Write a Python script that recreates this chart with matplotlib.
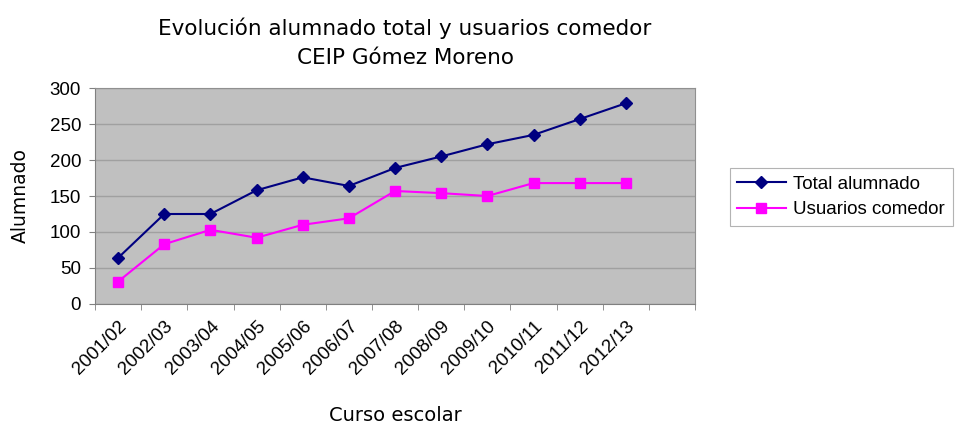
import matplotlib.pyplot as plt
import numpy as np

cursos = ['2001/02', '2002/03', '2003/04', '2004/05', '2005/06', '2006/07',
          '2007/08', '2008/09', '2009/10', '2010/11', '2011/12', '2012/13']
total = [64, 125, 125, 158, 176, 164, 189, 205, 222, 235, 257, 279]
comedor = [31, 83, 103, 92, 110, 119, 157, 154, 150, 168, 168, 168]

plt.rcParams['font.family'] = ['Liberation Sans', 'DejaVu Sans']

fig = plt.figure(figsize=(9.6, 4.28), dpi=100)
ax = fig.add_axes([0.099, 0.29, 0.625, 0.504])
ax.set_facecolor('#c0c0c0')

x = np.arange(len(cursos)) + 0.5
ax.plot(x, total, color='#000080', marker='D', markersize=6.5, lw=1.5, label='Total alumnado')
ax.plot(x, comedor, color='#ff00ff', marker='s', markersize=7.5, lw=1.5, label='Usuarios comedor')

ax.set_xlim(0, 13)
ax.set_ylim(0, 300)
ax.set_yticks(range(0, 301, 50))
ax.yaxis.grid(True, color='#a0a0a0', lw=1)
ax.set_axisbelow(True)

ax.set_xticks(x)
ax.set_xticklabels(cursos, rotation=45, ha='right', rotation_mode='anchor', fontsize=13.5)
ax.set_xticks(np.arange(0, 14), minor=True)
ax.tick_params(axis='x', which='major', length=0, pad=10)
ax.tick_params(axis='x', which='minor', length=4, color='#808080', direction='out')
ax.tick_params(axis='y', length=4, color='#808080', labelsize=13.5, pad=6)

for s in ['top', 'right']:
    ax.spines[s].set_color('#909090')
for s in ['left', 'bottom']:
    ax.spines[s].set_color('#808080')

ax.set_ylabel('Alumnado', fontsize=13.5, family=['DejaVu Sans'], labelpad=14)
ax.set_xlabel('Curso escolar', fontsize=14, family=['DejaVu Sans'], labelpad=20)
fig.text(0.422, 0.90, 'Evolución alumnado total y usuarios comedor\nCEIP Gómez Moreno',
         ha='center', va='center', fontsize=15.5, family=['DejaVu Sans'], linespacing=1.55)

leg = fig.legend(loc='center left', bbox_to_anchor=(0.760, 0.54), fontsize=13.5,
                 frameon=True, fancybox=False, edgecolor='#a0a0a0',
                 borderpad=0.4, handlelength=2.6, handletextpad=0.4,
                 labelspacing=0.45, borderaxespad=0)
leg.get_frame().set_linewidth(0.8)

fig.savefig('out.png', dpi=100)
